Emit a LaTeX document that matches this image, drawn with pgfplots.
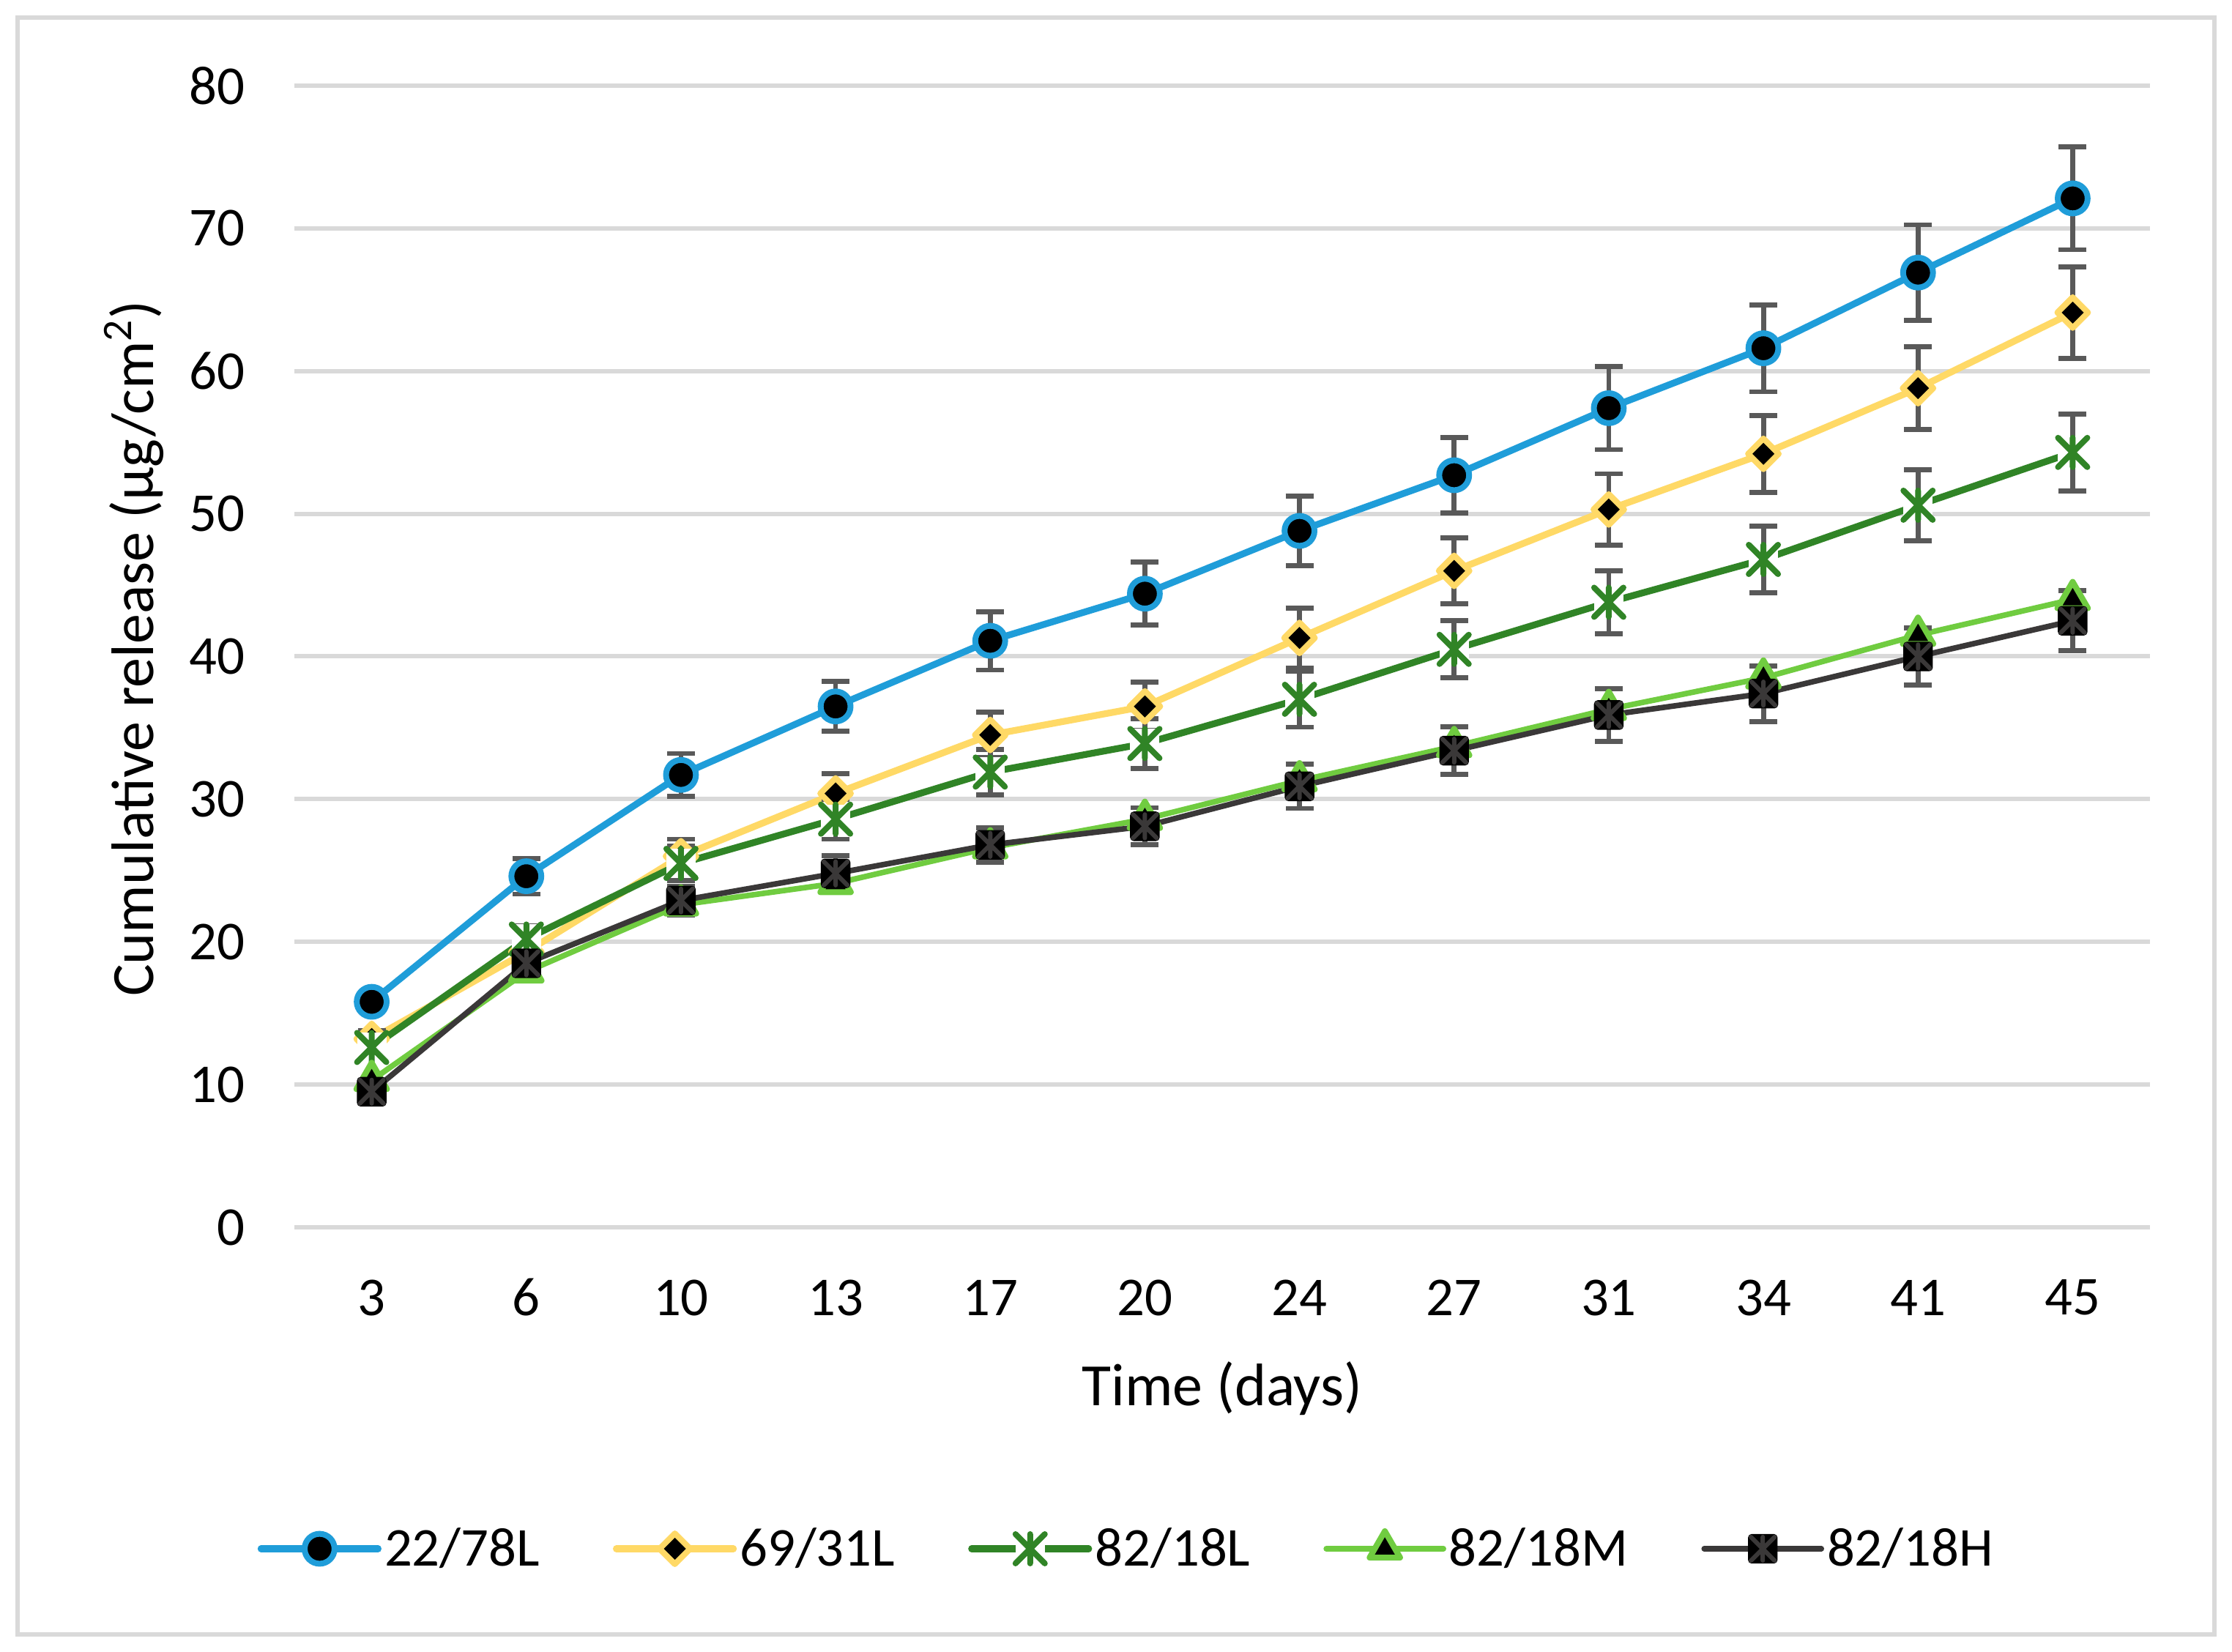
\documentclass[border=0pt]{standalone}
\usepackage{fontspec}
\setmainfont{Carlito}
\usepackage{pgfplots}
\usepackage{pgfplotstable}
\pgfplotsset{compat=1.18}

\definecolor{cA}{HTML}{1F9DD9}
\definecolor{cB}{HTML}{FFD966}
\definecolor{cC}{HTML}{308426}
\definecolor{cD}{HTML}{70CC40}
\definecolor{cE}{HTML}{3A3838}
\definecolor{errc}{HTML}{595959}
\definecolor{gridc}{HTML}{D9D9D9}

\pgfdeclareplotmark{xstarw}{%
  \pgfpathrectangle{\pgfqpoint{-\pgfplotmarksize}{-\pgfplotmarksize}}{\pgfqpoint{2\pgfplotmarksize}{2\pgfplotmarksize}}%
  \pgfusepathqfill
  \pgfpathmoveto{\pgfqpoint{-\pgfplotmarksize}{-\pgfplotmarksize}}%
  \pgfpathlineto{\pgfqpoint{\pgfplotmarksize}{\pgfplotmarksize}}%
  \pgfpathmoveto{\pgfqpoint{-\pgfplotmarksize}{\pgfplotmarksize}}%
  \pgfpathlineto{\pgfqpoint{\pgfplotmarksize}{-\pgfplotmarksize}}%
  \pgfpathmoveto{\pgfqpoint{0pt}{-\pgfplotmarksize}}%
  \pgfpathlineto{\pgfqpoint{0pt}{\pgfplotmarksize}}%
  \pgfusepathqstroke}

\pgfdeclareplotmark{sqstar}{%
  \pgfscope
  \pgfsetfillcolor{black}\pgfsetstrokecolor{black}\pgfsetlinewidth{0.6bp}%
  \pgfsetcornersarced{\pgfpoint{1bp}{1bp}}%
  \pgfpathrectangle{\pgfqpoint{-\pgfplotmarksize}{-\pgfplotmarksize}}{\pgfqpoint{2\pgfplotmarksize}{2\pgfplotmarksize}}%
  \pgfusepath{fill,stroke}%
  \endpgfscope
  \pgfscope
  \pgfsetstrokecolor{cE}\pgfsetlinewidth{1.5bp}%
  \pgfpathmoveto{\pgfqpoint{-0.85\pgfplotmarksize}{-0.85\pgfplotmarksize}}%
  \pgfpathlineto{\pgfqpoint{0.85\pgfplotmarksize}{0.85\pgfplotmarksize}}%
  \pgfpathmoveto{\pgfqpoint{-0.85\pgfplotmarksize}{0.85\pgfplotmarksize}}%
  \pgfpathlineto{\pgfqpoint{0.85\pgfplotmarksize}{-0.85\pgfplotmarksize}}%
  \pgfpathmoveto{\pgfqpoint{0pt}{-0.85\pgfplotmarksize}}%
  \pgfpathlineto{\pgfqpoint{0pt}{0.85\pgfplotmarksize}}%
  \pgfusepath{stroke}%
  \endpgfscope}

\pgfplotstableread{
x y e
0 15.8 0.6
1 24.6 1.25
2 31.7 1.5
3 36.5 1.75
4 41.1 2.05
5 44.4 2.2
6 48.8 2.45
7 52.7 2.65
8 57.4 2.9
9 61.6 3.05
10 66.9 3.35
11 72.1 3.6
}\tA
\pgfplotstableread{
x y e
0 13.2 0.6
1 19.3 0.9
2 26.0 1.2
3 30.4 1.4
4 34.5 1.6
5 36.5 1.7
6 41.3 2.1
7 46.0 2.3
8 50.3 2.5
9 54.2 2.7
10 58.8 2.9
11 64.1 3.2
}\tB
\pgfplotstableread{
x y e
0 12.6 0.7
1 20.2 0.9
2 25.5 1.2
3 28.6 1.4
4 31.9 1.6
5 33.9 1.75
6 37.0 1.95
7 40.5 2.0
8 43.8 2.2
9 46.8 2.35
10 50.6 2.5
11 54.3 2.7
}\tC
\pgfplotstableread{
x y
0 10.3
1 17.9
2 22.6
3 24.1
4 26.6
5 28.6
6 31.3
7 33.7
8 36.3
9 38.5
10 41.5
11 44.0
}\tD
\pgfplotstableread{
x y e
0 9.5 0.5
1 18.5 0.8
2 22.9 1.0
3 24.8 1.25
4 26.8 1.2
5 28.1 1.3
6 30.9 1.55
7 33.4 1.67
8 35.9 1.85
9 37.4 1.95
10 40.0 2.0
11 42.5 2.1
}\tE

\begin{document}
\begin{tikzpicture}
\useasboundingbox (-100.5bp,-145bp) rectangle (661.5bp,419bp);
\fill[white] (-100.5bp,-145bp) rectangle (661.5bp,419bp);
\draw[gridc, line width=1.5bp] (-94.5bp,-139bp) rectangle (655.5bp,413bp);
\begin{axis}[
  at={(0,0)}, anchor=south west,
  scale only axis, width=633.5bp, height=389.75bp,
  xmin=-0.5, xmax=11.5, ymin=0, ymax=80,
  xtick={0,...,11},
  xticklabels={3,6,10,13,17,20,24,27,31,34,41,45},
  ytick={0,10,...,80},
  ymajorgrids, grid style={color=gridc, line width=1.5bp},
  axis line style={draw=none}, major tick length=0pt,
  /pgf/number format/assume math mode=true,
  tick label style={font=\fontsize{18.7bp}{22bp}\selectfont},
  xticklabel style={anchor=center, yshift=-24bp},
  yticklabel style={anchor=east, inner sep=0pt, xshift=-16.75bp},
  xlabel={Time (days)},
  ylabel={Cumulative release (µg/cm\textsuperscript{2})},
  label style={font=\fontsize{20.5bp}{24bp}\selectfont},
  xlabel style={at={(axis description cs:0.5,-0.1565)}, anchor=base},
  ylabel style={at={(axis description cs:-0.0758,0.507)}, anchor=base},
  legend columns=5,
  legend style={draw=none, fill=none, at={(axis description cs:0.4487,-0.2816)}, anchor=center,
    font=\fontsize{18.7bp}{22bp}\selectfont, inner sep=0pt, nodes={inner sep=1bp},
    /tikz/every even column/.append style={column sep=24bp}},
  legend cell align=left,
  legend image code/.code={\draw[mark repeat=2,mark phase=2] plot coordinates {(0bp,0bp) (20bp,0bp) (40bp,0bp)};},
  every axis plot/.append style={line join=round, line cap=round},
  error bars/error bar style={color=errc, line width=1.7bp, line cap=butt},
  error bars/error mark options={rotate=90, mark size=4.75bp, line width=1.7bp, color=errc},
]
\addplot[cA, line width=2.3bp, mark=*, mark options={fill=black, draw=cA, line width=2bp, mark size=5.1bp},
  error bars/.cd, y dir=both, y explicit] table[x=x, y=y, y error=e] {\tA};
\addlegendentry{22/78L}
\addplot[cB, line width=2.3bp, mark=square*, mark options={fill=black, draw=cB, line width=2bp, mark size=3.7bp, rotate=45},
  error bars/.cd, y dir=both, y explicit] table[x=x, y=y, y error=e] {\tB};
\addlegendentry{69/31L}
\addplot[cC, line width=2.3bp, mark=xstarw, mark options={fill=white, draw=cC, line width=2bp, mark size=5bp},
  error bars/.cd, y dir=both, y explicit] table[x=x, y=y, y error=e] {\tC};
\addlegendentry{82/18L}
\addplot[cD, line width=1.9bp, mark=triangle*, mark options={fill=black, draw=cD, line width=2bp, mark size=6bp}]
  table[x=x, y=y] {\tD};
\addlegendentry{82/18M}
\addplot[cE, line width=1.9bp, mark=sqstar, mark options={mark size=4.75bp},
  error bars/.cd, y dir=both, y explicit] table[x=x, y=y, y error=e] {\tE};
\addlegendentry{82/18H}
\end{axis}
\end{tikzpicture}
\end{document}
